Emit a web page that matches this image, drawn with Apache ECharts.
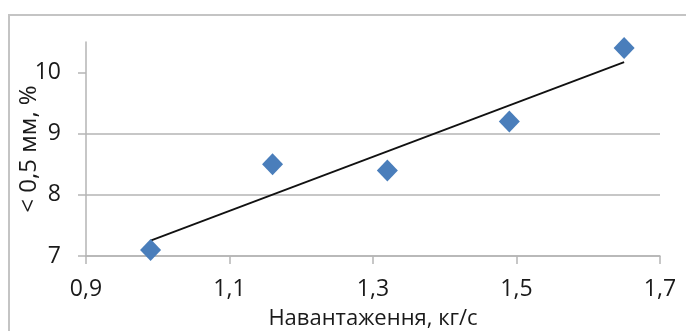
<!DOCTYPE html>
<html><head><meta charset="utf-8">
<script src="https://cdn.jsdelivr.net/npm/echarts@6/dist/echarts.min.js"></script>
<style>html,body{margin:0;padding:0;background:#fff}#c{width:686px;height:331px}</style>
</head><body><div id="c"></div>
<script>
// data
const loadX = [0.99, 1.16, 1.32, 1.49, 1.65];
const fineY = [7.1, 8.5, 8.4, 9.2, 10.4];
const trendX = [0.99, 1.65];
const trendY = [7.25, 10.17];
const yTicks = [7, 8, 9, 10];
const xTitle = 'Навантаження, кг/с';
const yTitle = '< 0,5 мм, %';

const FONT = 'Open Sans';
const chart = echarts.init(document.getElementById('c'), null, {renderer: 'canvas'});
const comma = v => (Math.round(v * 10) / 10).toFixed(1).replace('.', ',');
chart.setOption({
  animation: false,
  backgroundColor: '#fff',
  textStyle: {fontFamily: FONT},
  graphic: [{
    type: 'rect', silent: true, z: -1,
    shape: {x: 9, y: 15, width: 700, height: 340},
    style: {fill: 'none', stroke: '#c4c4c4', lineWidth: 2}
  }],
  grid: {left: 86, right: 26, top: 42, bottom: 75, containLabel: false, outerBoundsMode: 'none'},
  xAxis: {
    type: 'value', min: 0.9, max: 1.7, interval: 0.2,
    name: xTitle, nameLocation: 'middle', nameGap: 52, nameMoveOverlap: false,
    nameTextStyle: {fontSize: 22, color: '#1a1a1a', fontFamily: FONT},
    axisLine: {show: true, lineStyle: {color: '#b5b5b5', width: 1.5}},
    axisTick: {show: true, length: 8, lineStyle: {color: '#b5b5b5', width: 1.5}},
    axisLabel: {fontSize: 23, color: '#1a1a1a', margin: 22, formatter: comma, fontFamily: FONT},
    splitLine: {show: false}
  },
  yAxis: {
    type: 'value', min: 7, max: 10.5, interval: 1,
    name: yTitle, nameLocation: 'middle', nameGap: 45, nameRotate: 90, nameMoveOverlap: false,
    nameTextStyle: {fontSize: 24, color: '#1a1a1a', fontFamily: FONT},
    axisLine: {show: true, lineStyle: {color: '#b5b5b5', width: 1.5}},
    axisTick: {show: true, length: 8, customValues: yTicks, lineStyle: {color: '#b5b5b5', width: 1.5}},
    axisLabel: {fontSize: 23, color: '#1a1a1a', margin: 25, customValues: yTicks, fontFamily: FONT},
    splitLine: {show: true, showMaxLine: false, lineStyle: {color: '#b5b5b5', width: 1.5}}
  },
  series: [
    {
      type: 'line', data: trendX.map((x, i) => [x, trendY[i]]),
      showSymbol: false, symbol: 'none', lineStyle: {color: '#111', width: 1.8}, z: 3
    },
    {
      type: 'scatter', data: loadX.map((x, i) => [x, fineY[i]]),
      symbol: 'diamond', symbolSize: [21, 22],
      itemStyle: {color: '#4A7EBB', opacity: 1}, z: 4
    }
  ]
});
</script></body></html>
